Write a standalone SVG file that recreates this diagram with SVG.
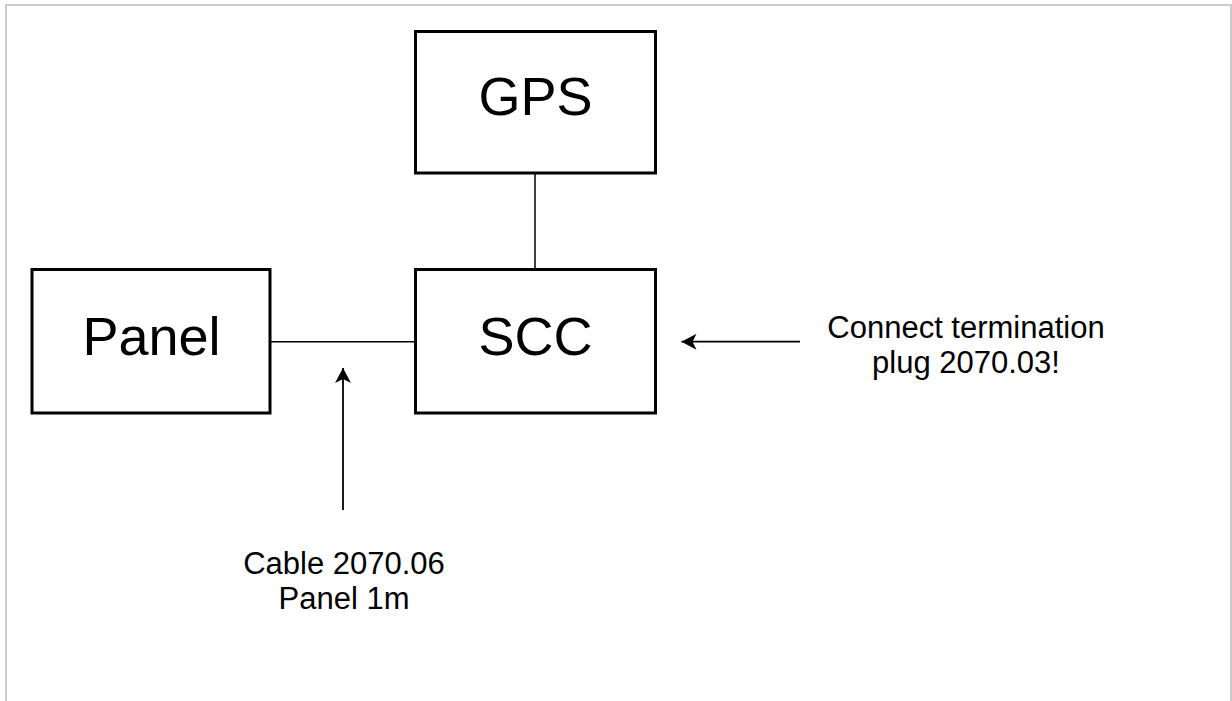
<svg xmlns="http://www.w3.org/2000/svg" width="1232" height="701" viewBox="0 0 1232 701">
<style>
.box{fill:#fff;stroke:#000;stroke-width:3}
.big{font-family:"Liberation Sans",Arial,sans-serif;font-size:54px;text-anchor:middle;fill:#000}
.lbl{font-family:"Liberation Sans",Arial,sans-serif;font-size:31px;text-anchor:middle;fill:#000}
.wire{stroke:#000;stroke-width:1.5;fill:none}
.arr{stroke:#000;stroke-width:1.8;fill:none;marker-end:url(#ah)}
</style>
<defs>
<marker id="ah" markerUnits="userSpaceOnUse" markerWidth="20" markerHeight="20" refX="15" refY="8" orient="auto">
<path d="M0,0 L15,8 L0,16 L4,8 Z" fill="#000"/>
</marker>
</defs>
<rect x="6" y="5" width="1225" height="730" fill="#fff" stroke="#cccccc" stroke-width="2"/>
<g id="connectors">
<line class="wire" x1="535" y1="173" x2="535" y2="269.5"/>
<line class="wire" x1="270" y1="341.7" x2="415.5" y2="341.7"/>
<line class="arr" x1="343" y1="510" x2="343" y2="368"/>
<line class="arr" x1="800" y1="341.7" x2="681.5" y2="341.7"/>
</g>
<g id="gps">
<rect class="box" x="415.5" y="31.5" width="240" height="141.5"/>
<text class="big" x="535.5" y="115">GPS</text>
</g>
<g id="scc">
<rect class="box" x="415.5" y="269.5" width="240" height="143.5"/>
<text class="big" x="535.5" y="355">SCC</text>
</g>
<g id="panel">
<rect class="box" x="32" y="269.5" width="238" height="143.5"/>
<text class="big" x="151.5" y="355">Panel</text>
</g>
<g id="label-termination">
<text class="lbl" x="966" y="337.5">Connect termination</text>
<text class="lbl" x="966" y="372.5">plug 2070.03!</text>
</g>
<g id="label-cable">
<text class="lbl" x="344" y="573.5">Cable 2070.06</text>
<text class="lbl" x="344" y="608.5">Panel 1m</text>
</g>
</svg>
